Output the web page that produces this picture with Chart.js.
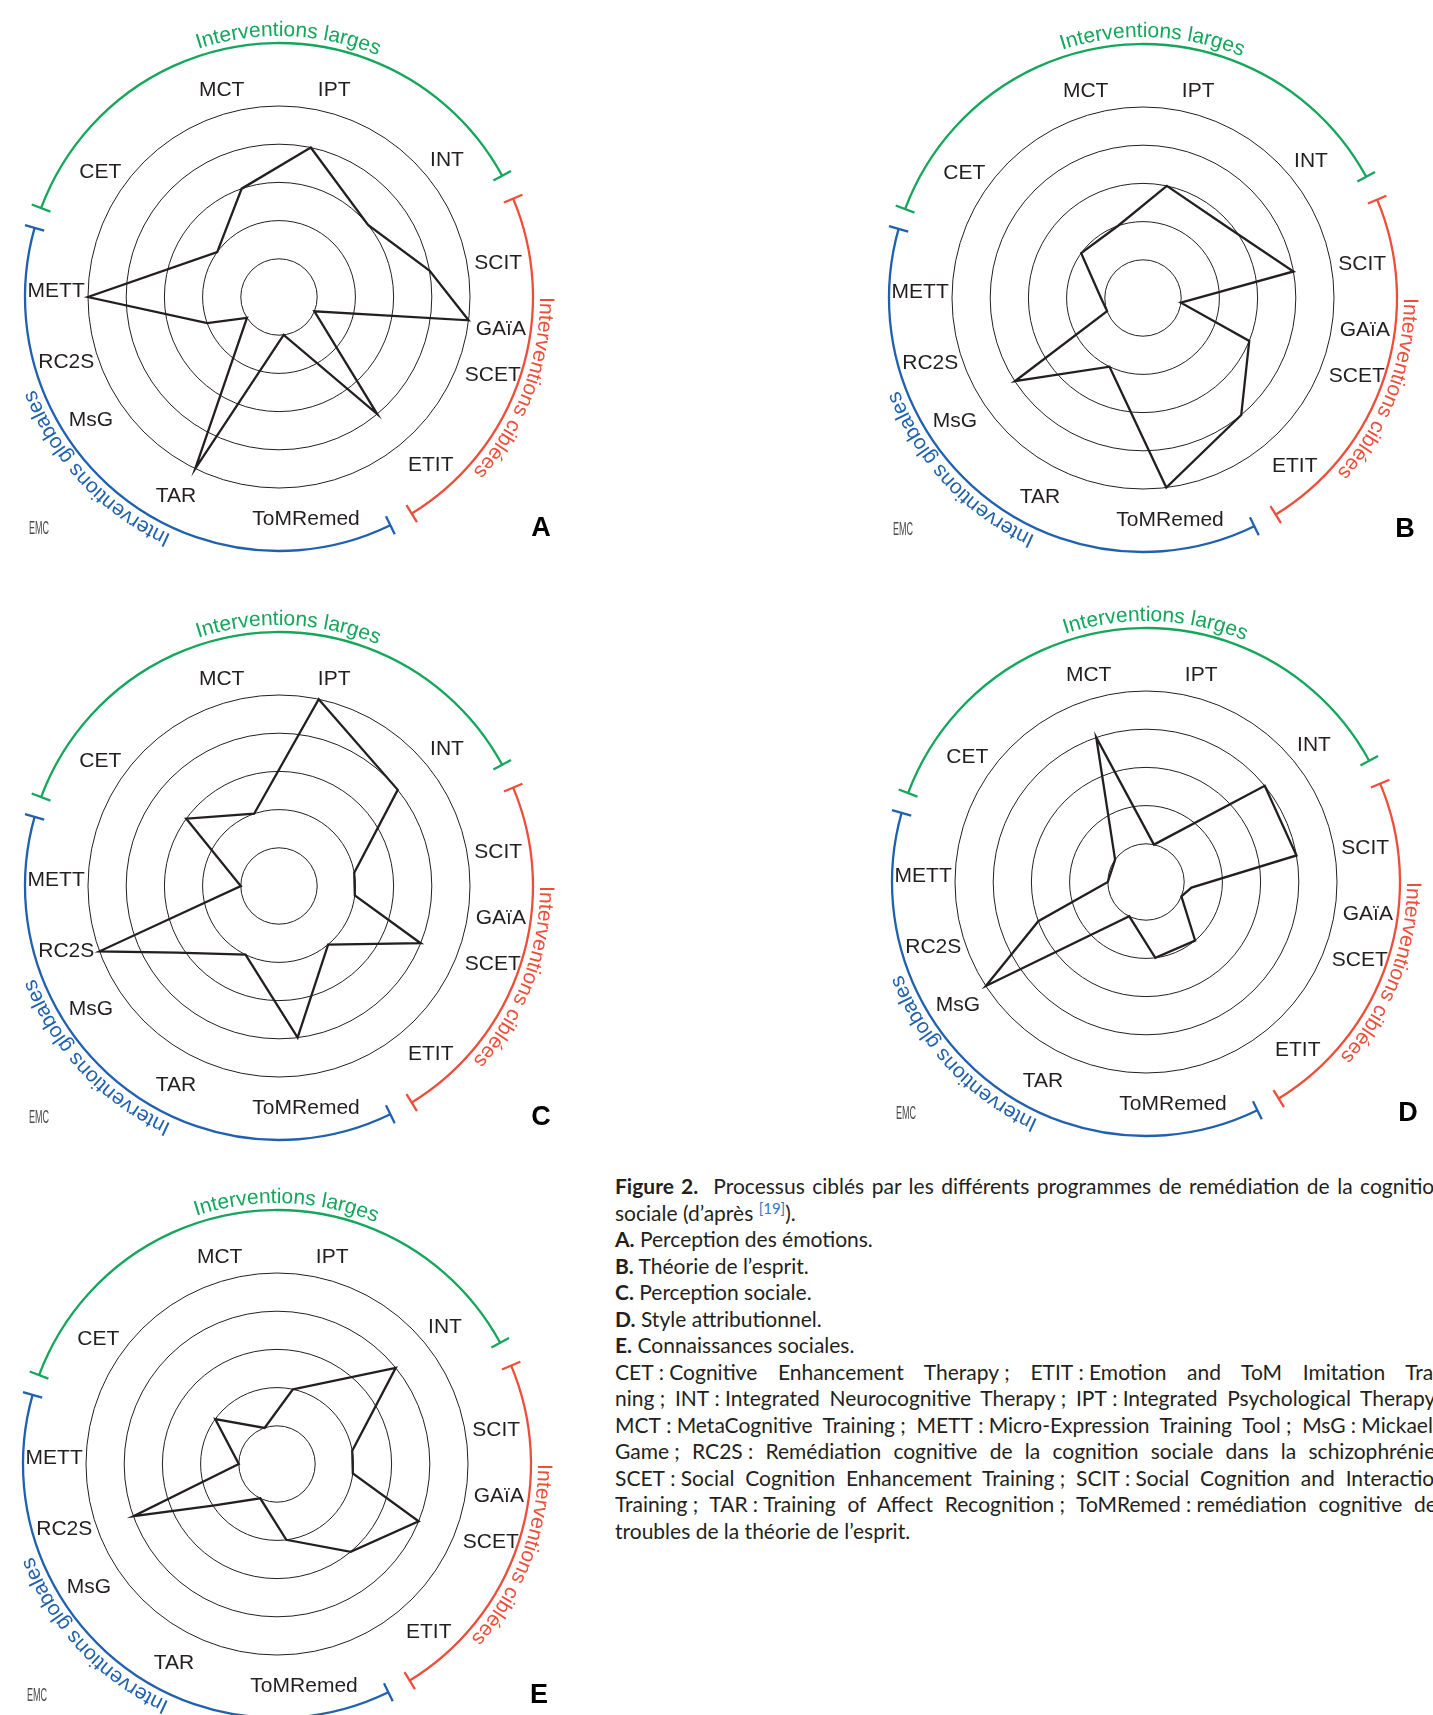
<!DOCTYPE html>
<html lang="fr">
<head>
<meta charset="utf-8">
<title>Figure 2 – Processus ciblés</title>
<script src="https://cdn.jsdelivr.net/npm/chart.js@4.4.1/dist/chart.umd.min.js"></script>
<style>
  html, body { margin: 0; padding: 0; background: #fff; }
  body { width: 1433px; height: 1715px; position: relative; overflow: hidden; }
  canvas.radar { position: absolute; }
  #caption {
    position: absolute; left: 615px; top: 1173px; width: 831px;
    font-family: Lato, "Open Sans", sans-serif; font-size: 21px; line-height: 26.5px;
    color: #231f20;
  }
  #caption div { white-space: nowrap; }
  #caption .j { text-align: justify; text-align-last: justify; }
  #caption b { font-weight: 700; }
  #caption sup { color: #2b7bbf; font-size: 15px; line-height: 0; vertical-align: 7px; }
</style>
</head>
<body>
<canvas id="chartA" class="radar" width="580" height="580"></canvas>
<canvas id="chartB" class="radar" width="580" height="580"></canvas>
<canvas id="chartC" class="radar" width="580" height="580"></canvas>
<canvas id="chartD" class="radar" width="580" height="580"></canvas>
<canvas id="chartE" class="radar" width="580" height="580"></canvas>

<div id="caption">
  <div class="j"><b>Figure 2.</b>&nbsp; Processus ciblés par les différents programmes de remédiation de la cognition</div>
  <div>sociale (d’après <sup>[19]</sup>).</div>
  <div><b>A.</b> Perception des émotions.</div>
  <div><b>B.</b> Théorie de l’esprit.</div>
  <div><b>C.</b> Perception sociale.</div>
  <div><b>D.</b> Style attributionnel.</div>
  <div><b>E.</b> Connaissances sociales.</div>
  <div class="j">CET&#8239;:&#8239;Cognitive Enhancement Therapy&#8239;; ETIT&#8239;:&#8239;Emotion and ToM Imitation Trai-</div>
  <div class="j">ning&#8239;; INT&#8239;:&#8239;Integrated Neurocognitive Therapy&#8239;; IPT&#8239;:&#8239;Integrated Psychological Therapy&#8239;;</div>
  <div class="j">MCT&#8239;:&#8239;MetaCognitive Training&#8239;; METT&#8239;:&#8239;Micro-Expression Training Tool&#8239;; MsG&#8239;:&#8239;Mickael’s</div>
  <div class="j">Game&#8239;; RC2S&#8239;: Remédiation cognitive de la cognition sociale dans la schizophrénie&#8239;;</div>
  <div class="j">SCET&#8239;:&#8239;Social Cognition Enhancement Training&#8239;; SCIT&#8239;:&#8239;Social Cognition and Interaction</div>
  <div class="j">Training&#8239;; TAR&#8239;:&#8239;Training of Affect Recognition&#8239;; ToMRemed&#8239;:&#8239;remédiation cognitive des</div>
  <div>troubles de la théorie de l’esprit.</div>
</div>

<script>
// programmes, in the order the polygons visit them
const programmes = ['MCT', 'IPT', 'INT', 'SCIT', 'GAïA', 'SCET', 'ETIT', 'ToMRemed', 'TAR', 'MsG', 'RC2S', 'METT', 'CET'];

// levels (1 = inner ring, 5 = outer ring), same order as programmes
const perceptionEmotions = [3, 4, 3, 4, 5, 1, 4, 1, 5, 1, 2, 5, 2];
const theorieEsprit = [2, 3, 2.9, 4, 1, 3, 4, 5, 2, 4, 1, 1.1, 2];
const perceptionSociale = [2, 5, 4, 2, 2, 4, 2, 4, 2, 3.2, 5, 1, 3];
const styleAttributionnel = [4, 1, 4, 4, 1.2, 1, 2, 2, 1, 5, 3, 1, 1];
const connaissancesSociales = [1, 2, 4, 2, 2, 4, 3, 2, 1, 2, 4, 1, 2];

const panelLetters = ['A', 'B', 'C', 'D', 'E'];
const groupNames = ['Interventions larges', 'Interventions ciblées', 'Interventions globales'];
const ringTicks = [1, 2, 3, 4, 5];

// layout: spoke angles are not evenly spread in the original figure (degrees, clockwise from top)
const SPOKE_DEG = [341, 12, 51, 80, 97, 112, 140, 173, 206, 237, 250, 270, 306];
const LABEL_DEG = [344.6, 14.8, 50.4, 80.8, 97.9, 109.6, 137.6, 173, 207.5, 237.1, 253.4, 272, 305.3];
const LABEL_DIST = [216, 216, 218, 222, 224, 227, 225, 222, 223, 224, 222, 223, 219];
const GROUP_ARCS = [
  { from: 290.5, to: 421.5, text: 342.5 + 19.6, color: '#14a65b' },
  { from: 67.2, to: 148.5, text: 111, color: '#ee4e39' },
  { from: 154, to: 285.8, text: 226.8, color: '#1f61ae' },
];
const PANEL_CENTERS = [[279, 297], [1143, 298], [279, 886], [1146, 882], [277, 1464]];
const INK = '#231f20';
const SIZE = 580;
const RADIUS = 191;

const rad = (d) => d * Math.PI / 180;

// 360 one-degree slots so the radial scale can put each programme on its own spoke
const slotLabels = Array.from({ length: 360 }, (_, d) => {
  const j = SPOKE_DEG.indexOf(d);
  return j >= 0 ? programmes[j] : '';
});
function toSlots(values) {
  const out = new Array(360).fill(null);
  values.forEach((v, i) => { out[SPOKE_DEG[i]] = v; });
  return out;
}

function arcText(ctx, text, cx, cy, r, centerDeg) {
  const chars = [...text];
  const widths = chars.map((ch) => ctx.measureText(ch).width);
  const total = widths.reduce((a, b) => a + b, 0);
  let a = rad(centerDeg) - total / (2 * r);
  chars.forEach((ch, i) => {
    const w = widths[i];
    ctx.save();
    ctx.translate(cx, cy);
    ctx.rotate(a + w / (2 * r));
    ctx.fillText(ch, 0, -r);
    ctx.restore();
    a += w / r;
  });
}

const decor = {
  id: 'decor',
  afterDraw(chart, args, opts) {
    const s = chart.scales.r;
    const ctx = chart.ctx;
    const cx = s.xCenter;
    const cy = s.yCenter;
    const R = s.drawingArea;
    ctx.save();

    // programme names
    ctx.fillStyle = INK;
    ctx.textAlign = 'center';
    ctx.textBaseline = 'alphabetic';
    ctx.font = '21px "Liberation Sans", Arial, sans-serif';
    programmes.forEach((name, i) => {
      const a = rad(LABEL_DEG[i]);
      const d = LABEL_DIST[i];
      ctx.fillText(name, cx + d * Math.sin(a), cy - d * Math.cos(a) + 7.5);
    });

    // group brackets
    const arcR = R + 63;
    GROUP_ARCS.forEach((g, k) => {
      ctx.strokeStyle = g.color;
      ctx.lineWidth = 2.3;
      ctx.beginPath();
      ctx.arc(cx, cy, arcR, rad(g.from - 90), rad(g.to - 90));
      ctx.stroke();
      [g.from, g.to].forEach((deg) => {
        const a = rad(deg);
        ctx.beginPath();
        ctx.moveTo(cx + (arcR - 10) * Math.sin(a), cy - (arcR - 10) * Math.cos(a));
        ctx.lineTo(cx + (arcR + 10) * Math.sin(a), cy - (arcR + 10) * Math.cos(a));
        ctx.stroke();
      });
      ctx.fillStyle = g.color;
      ctx.font = '21px "Liberation Sans", Arial, sans-serif';
      arcText(ctx, groupNames[k], cx, cy, R + 70, g.text);
    });

    // panel letter
    ctx.fillStyle = '#000';
    ctx.font = 'bold 27px "Liberation Sans", Arial, sans-serif';
    ctx.fillText(opts.letter, cx + 262, cy + 239);

    // publisher mark
    ctx.save();
    ctx.translate(cx - 240, cy + 237);
    ctx.scale(0.5, 1);
    ctx.fillStyle = '#4a4a4a';
    ctx.font = '18px "Liberation Sans", Arial, sans-serif';
    ctx.fillText('EMC', 0, 0);
    ctx.restore();

    ctx.restore();
  },
};

const series = [perceptionEmotions, theorieEsprit, perceptionSociale, styleAttributionnel, connaissancesSociales];

series.forEach((values, p) => {
  const canvas = document.getElementById('chart' + panelLetters[p]);
  const [cx, cy] = PANEL_CENTERS[p];
  canvas.style.left = (cx - SIZE / 2) + 'px';
  canvas.style.top = (cy - SIZE / 2) + 'px';

  new Chart(canvas, {
    type: 'radar',
    data: {
      labels: slotLabels,
      datasets: [
        {
          data: toSlots(values),
          borderColor: INK,
          borderWidth: 2.3,
          borderJoinStyle: 'miter',
          pointRadius: 0,
          pointHitRadius: 0,
          fill: false,
          spanGaps: true,
          tension: 0,
        },
      ],
    },
    options: {
      responsive: false,
      animation: false,
      events: [],
      layout: { padding: SIZE / 2 - RADIUS },
      plugins: {
        legend: { display: false },
        tooltip: { enabled: false },
        decor: { letter: panelLetters[p] },
      },
      scales: {
        r: {
          min: 0,
          max: ringTicks[ringTicks.length - 1],
          startAngle: 0,
          ticks: { display: false, stepSize: 1 },
          grid: { circular: true, color: INK, lineWidth: 1 },
          angleLines: { display: false },
          pointLabels: { display: false },
        },
      },
    },
    plugins: [decor],
  });
});
</script>
</body>
</html>
